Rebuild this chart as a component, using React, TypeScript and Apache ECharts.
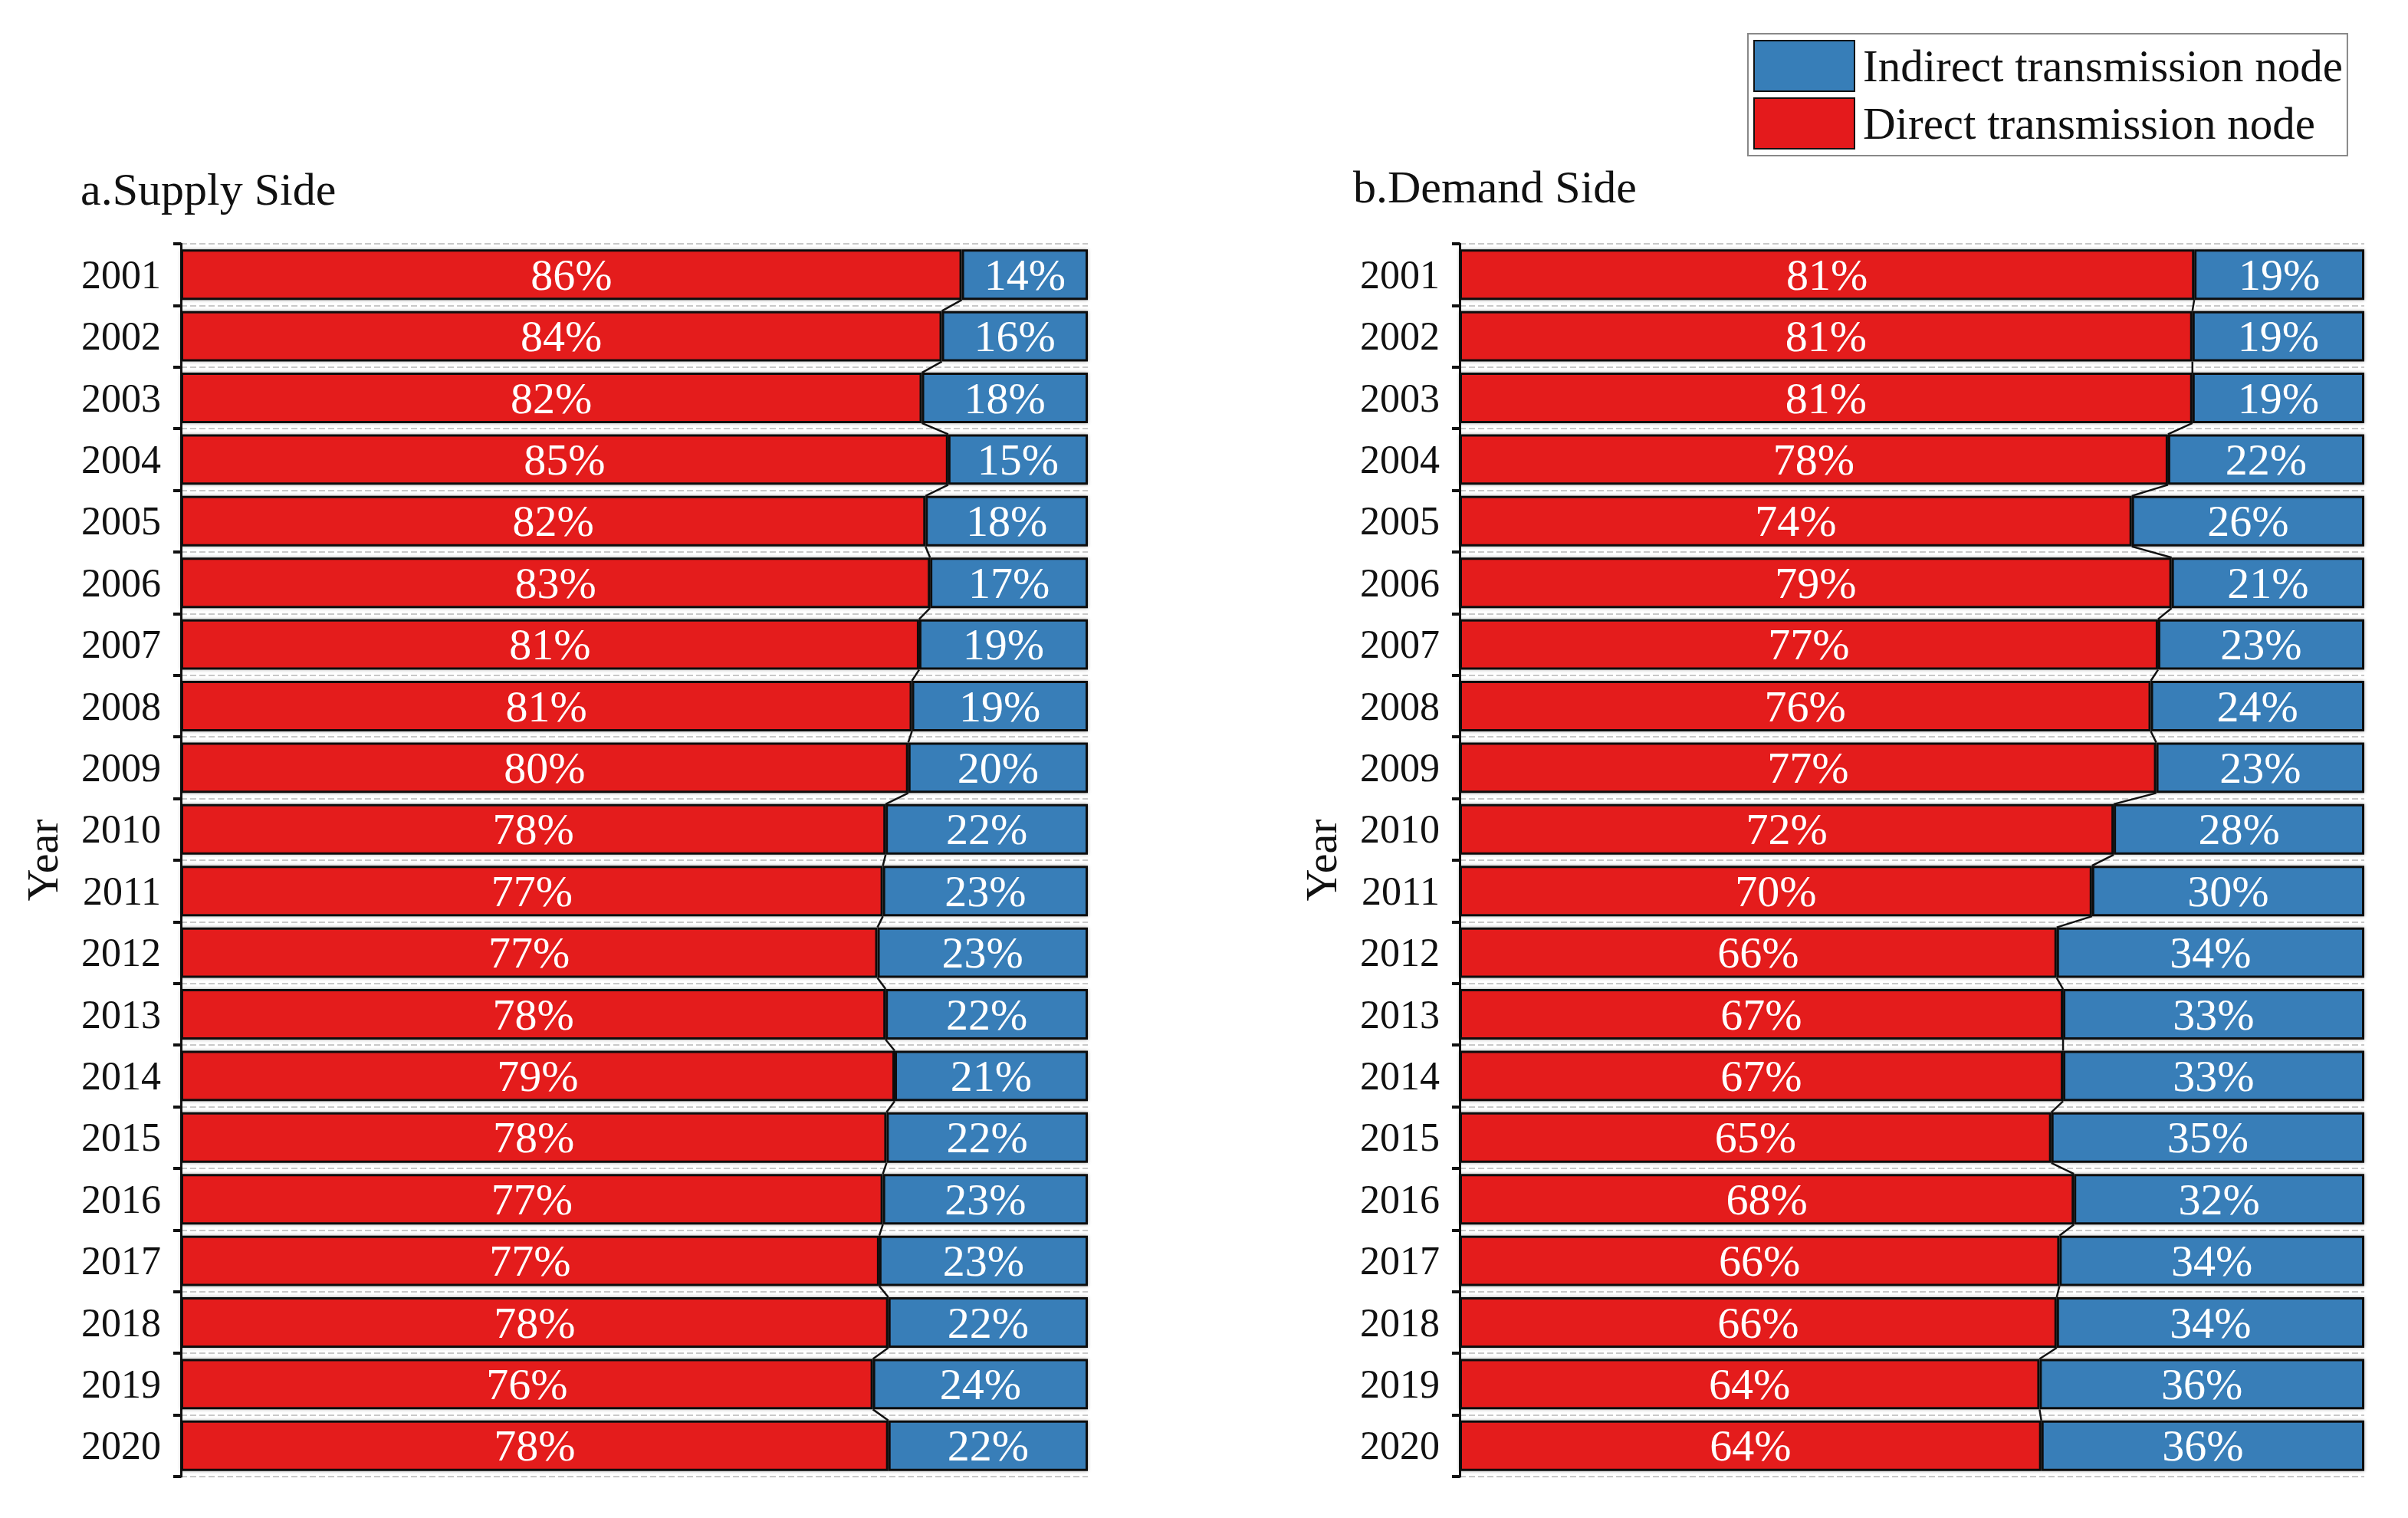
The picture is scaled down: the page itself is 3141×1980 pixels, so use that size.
import { useEffect, useRef } from 'react';
import * as echarts from 'echarts';

const YEARS = [
  '2001', '2002', '2003', '2004', '2005', '2006', '2007', '2008', '2009', '2010',
  '2011', '2012', '2013', '2014', '2015', '2016', '2017', '2018', '2019', '2020',
];

// shares in %
const SUPPLY_DIRECT = [86.1, 83.9, 81.7, 84.6, 82.1, 82.6, 81.4, 80.6, 80.2, 77.7, 77.4, 76.8, 77.7, 78.7, 77.8, 77.4, 77.0, 78.0, 76.3, 78.0];
const SUPPLY_INDIRECT = [13.9, 16.1, 18.3, 15.4, 17.9, 17.4, 18.6, 19.4, 19.8, 22.3, 22.6, 23.2, 22.3, 21.3, 22.2, 22.6, 23.0, 22.0, 23.7, 22.0];
const DEMAND_DIRECT = [81.2, 81.0, 81.0, 78.3, 74.3, 78.7, 77.2, 76.4, 77.0, 72.3, 69.9, 66.0, 66.7, 66.7, 65.4, 67.9, 66.3, 66.0, 64.1, 64.3];
const DEMAND_INDIRECT = [18.8, 19.0, 19.0, 21.7, 25.7, 21.3, 22.8, 23.6, 23.0, 27.7, 30.1, 34.0, 33.3, 33.3, 34.6, 32.1, 33.7, 34.0, 35.9, 35.7];

const DIRECT_NAME = 'Direct transmission node';
const INDIRECT_NAME = 'Indirect transmission node';
const RED = '#e41a1c';
const BLUE = '#377eb8';
const SERIF = '"Liberation Serif", "Times New Roman", serif';
const BAR_RATIO = 0.82;

const barLabel = {
  show: true,
  position: 'inside' as const,
  color: '#fff',
  fontSize: 58,
  fontFamily: SERIF,
  formatter: (p: { value: number }) => Math.round(p.value) + '%',
};

function barSeries(name: string, data: number[], color: string, idx: number) {
  return {
    name,
    type: 'bar' as const,
    stack: 'side' + idx,
    xAxisIndex: idx,
    yAxisIndex: idx,
    barWidth: BAR_RATIO * 100 + '%',
    data,
    itemStyle: {
      color,
      borderColor: '#111',
      borderWidth: 3,
      shadowColor: 'rgba(0,0,0,0.35)',
      shadowBlur: 4,
    },
    label: barLabel,
  };
}

// joins the end of each red segment to the next one across the gap
function connector(values: number[], idx: number) {
  return {
    type: 'custom' as const,
    xAxisIndex: idx,
    yAxisIndex: idx,
    z: 5,
    silent: true,
    encode: { x: [0, 1], y: 2 },
    data: values.slice(0, -1).map((v, i) => [v, values[i + 1], i]),
    renderItem: (params: any, api: any) => {
      const i = api.value(2);
      const a = api.coord([api.value(0), i]);
      const b = api.coord([api.value(1), i + 1]);
      const half = (api.size([0, 1])[1] * BAR_RATIO) / 2;
      return {
        type: 'line',
        shape: { x1: a[0], y1: a[1] + half, x2: b[0], y2: b[1] - half },
        style: { stroke: '#111', lineWidth: 2.5 },
      };
    },
  };
}

function yAxis(idx: number) {
  return {
    type: 'category' as const,
    gridIndex: idx,
    data: YEARS,
    inverse: true,
    name: 'Year',
    nameLocation: 'middle' as const,
    nameGap: 152,
    nameRotate: 90,
    nameTextStyle: { fontSize: 58, fontFamily: SERIF, color: '#111' },
    axisLine: { show: true, lineStyle: { color: '#111', width: 3 } },
    axisTick: { show: true, length: 10, lineStyle: { color: '#111', width: 4 } },
    axisLabel: { fontSize: 52, fontFamily: SERIF, color: '#111', margin: 26 },
    splitLine: { show: true, lineStyle: { color: '#c8c8c8', type: 'dashed' as const, width: 2 } },
  };
}

function xAxis(idx: number) {
  return { type: 'value' as const, gridIndex: idx, min: 0, max: 100, show: false };
}

export default function App() {
  const chartRef = useRef<HTMLDivElement>(null);

  useEffect(() => {
    if (!chartRef.current) return;
    const chart = echarts.init(chartRef.current, undefined, { renderer: 'svg' });
    chart.setOption({
      animation: false,
      backgroundColor: '#fff',
      title: [
        { text: 'a.Supply Side', left: 105, top: 217, padding: 0, textStyle: { fontSize: 60, fontWeight: 'normal', fontFamily: SERIF, color: '#111' } },
        { text: 'b.Demand Side', left: 1765, top: 214, padding: 0, textStyle: { fontSize: 60, fontWeight: 'normal', fontFamily: SERIF, color: '#111' } },
      ],
      legend: {
        data: [INDIRECT_NAME, DIRECT_NAME],
        orient: 'vertical',
        left: 2280,
        top: 44,
        icon: 'rect',
        itemWidth: 131,
        itemHeight: 66,
        itemGap: 7,
        padding: [8, 6, 8, 7],
        backgroundColor: '#fff',
        borderColor: '#888',
        borderWidth: 2,
        textStyle: { fontSize: 59, fontFamily: SERIF, color: '#111', padding: [0, 0, 0, 6] },
      },
      grid: [
        { left: 236, right: 1722, top: 318, bottom: 54 },
        { left: 1904, right: 57, top: 318, bottom: 54 },
      ],
      xAxis: [xAxis(0), xAxis(1)],
      yAxis: [yAxis(0), yAxis(1)],
      series: [
        barSeries(DIRECT_NAME, SUPPLY_DIRECT, RED, 0),
        barSeries(INDIRECT_NAME, SUPPLY_INDIRECT, BLUE, 0),
        barSeries(DIRECT_NAME, DEMAND_DIRECT, RED, 1),
        barSeries(INDIRECT_NAME, DEMAND_INDIRECT, BLUE, 1),
        connector(SUPPLY_DIRECT, 0),
        connector(DEMAND_DIRECT, 1),
      ],
    });
    return () => chart.dispose();
  }, []);

  return <div ref={chartRef} style={{ position: 'fixed', left: 0, top: 0, width: 3141, height: 1980 }} />;
}
